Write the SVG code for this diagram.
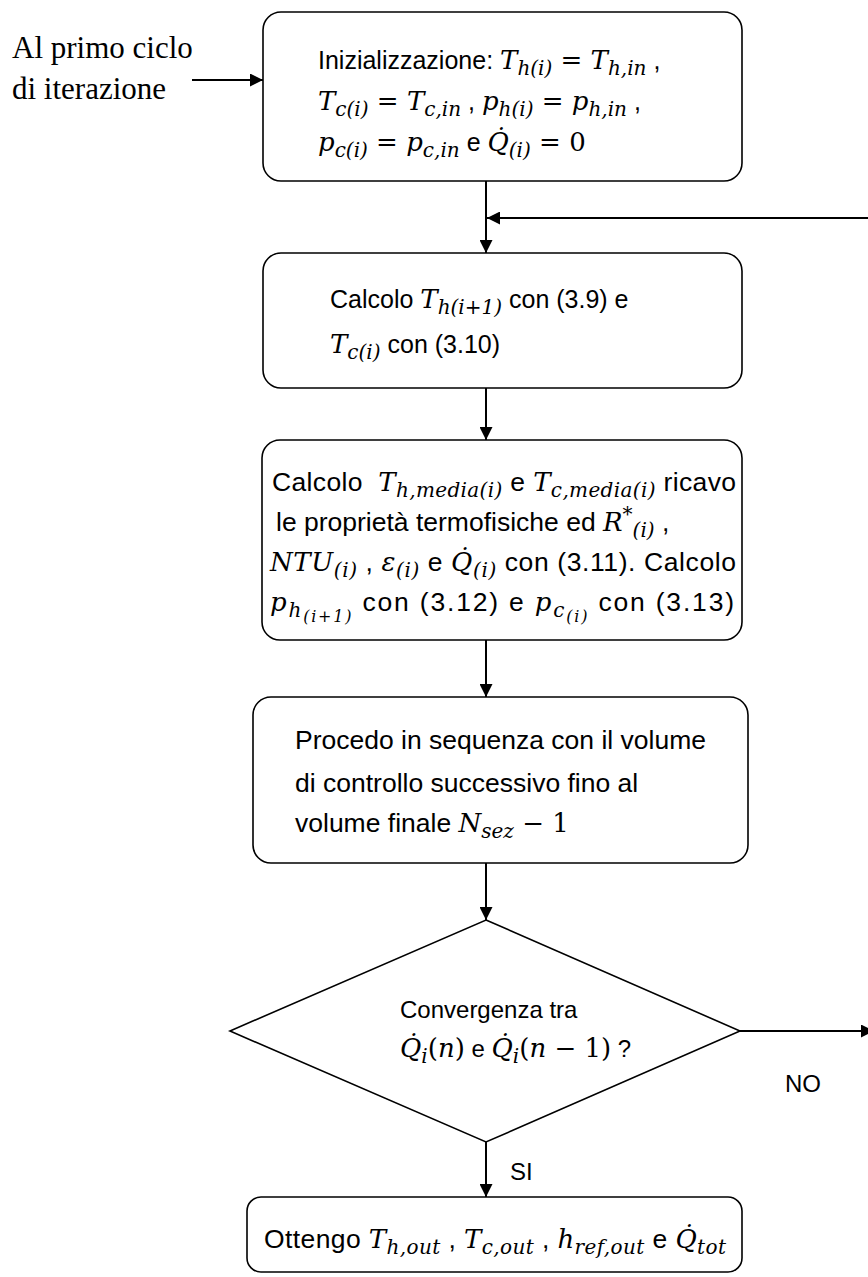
<svg xmlns="http://www.w3.org/2000/svg" width="868" height="1277" viewBox="0 0 868 1277">
<style>
.box{fill:#fff;stroke:#000;stroke-width:1.6}
.conn{fill:none;stroke:#000;stroke-width:2}
.t{font-family:"Liberation Sans",Arial,sans-serif;font-size:26.5px;fill:#000}
.t2{font-family:"Liberation Sans",Arial,sans-serif;font-size:25px;fill:#000}
.t3{font-family:"Liberation Sans",Arial,sans-serif;font-size:24px;fill:#000}
.r{font-family:"Liberation Serif","Times New Roman",serif;font-size:31px;fill:#000}
.m{font-family:"DejaVu Serif",serif;font-style:italic;font-size:26px}
.mu{font-family:"DejaVu Serif",serif;font-style:normal;font-size:26px}
.s{font-size:20px}
.ss{font-size:16px}
.lbl{font-family:"Liberation Sans",Arial,sans-serif;font-size:24px;fill:#000}
</style>
<defs>
<marker id="ah" viewBox="0 0 10 10" refX="10" refY="5" markerWidth="14" markerHeight="13" markerUnits="userSpaceOnUse" orient="auto"><path d="M0,0 L10,5 L0,10 z" fill="#000"/></marker>
</defs>
<g id="connectors">
<line class="conn" x1="192" y1="80" x2="263" y2="80" marker-end="url(#ah)"/>
<line class="conn" x1="486" y1="181" x2="486" y2="253" marker-end="url(#ah)"/>
<line class="conn" x1="870" y1="218" x2="487" y2="218" marker-end="url(#ah)"/>
<line class="conn" x1="486" y1="388" x2="486" y2="440" marker-end="url(#ah)"/>
<line class="conn" x1="486" y1="640" x2="486" y2="697" marker-end="url(#ah)"/>
<line class="conn" x1="486" y1="863" x2="486" y2="920" marker-end="url(#ah)"/>
<line class="conn" x1="486" y1="1142" x2="486" y2="1197" marker-end="url(#ah)"/>
<line class="conn" x1="740" y1="1031" x2="874" y2="1031" marker-end="url(#ah)"/>
<text class="lbl" x="785" y="1092">NO</text>
<text class="lbl" x="510" y="1180">SI</text>
</g>
<g id="start">
<text class="r" x="12" y="58">Al primo ciclo</text>
<text class="r" x="12" y="99">di iterazione</text>
</g>
<g id="init">
<rect class="box" x="263" y="12" width="479" height="169" rx="18"/>
<text class="t2" x="318" y="69">Inizializzazione: <tspan class="m">T</tspan><tspan class="m s" dy="6">h(i)</tspan><tspan class="mu" dy="-6"> = </tspan><tspan class="m">T</tspan><tspan class="m s" dy="6">h,in</tspan><tspan dy="-6"> ,</tspan></text>
<text class="t2" x="318" y="110"><tspan class="m">T</tspan><tspan class="m s" dy="6">c(i)</tspan><tspan class="mu" dy="-6"> = </tspan><tspan class="m">T</tspan><tspan class="m s" dy="6">c,in</tspan><tspan dy="-6"> , </tspan><tspan class="m">p</tspan><tspan class="m s" dy="6">h(i)</tspan><tspan class="mu" dy="-6"> = </tspan><tspan class="m">p</tspan><tspan class="m s" dy="6">h,in</tspan><tspan dy="-6"> ,</tspan></text>
<text class="t2" x="318" y="151"><tspan class="m">p</tspan><tspan class="m s" dy="6">c(i)</tspan><tspan class="mu" dy="-6"> = </tspan><tspan class="m">p</tspan><tspan class="m s" dy="6">c,in</tspan><tspan dy="-6"> e </tspan><tspan class="m">Q̇</tspan><tspan class="m s" dy="6">(i)</tspan><tspan class="mu" dy="-6"> = 0</tspan></text>
</g>
<g id="calc-temp">
<rect class="box" x="263" y="253" width="479" height="135" rx="18"/>
<text class="t2" x="330" y="308">Calcolo <tspan class="m">T</tspan><tspan class="m s" dy="6">h(i+1)</tspan><tspan dy="-6"> con (3.9) e</tspan></text>
<text class="t2" x="330" y="353"><tspan class="m">T</tspan><tspan class="m s" dy="6">c(i)</tspan><tspan dy="-6"> con (3.10)</tspan></text>
</g>
<g id="calc-props">
<rect class="box" x="262" y="440" width="480" height="200" rx="18"/>
<text class="t" x="272" y="491" textLength="464" lengthAdjust="spacing">Calcolo&#160; <tspan class="m">T</tspan><tspan class="m s" dy="6">h,media(i)</tspan><tspan dy="-6"> e </tspan><tspan class="m">T</tspan><tspan class="m s" dy="6">c,media(i)</tspan><tspan dy="-6"> ricavo</tspan></text>
<text class="t" x="276" y="531">le proprietà termofisiche ed <tspan class="m">R</tspan><tspan class="mu s" dy="-10">*</tspan><tspan class="m s" dy="16">(i)</tspan><tspan dy="-6"> ,</tspan></text>
<text class="t" x="270" y="571" textLength="466" lengthAdjust="spacing"><tspan class="m">NTU</tspan><tspan class="m s" dy="6">(i)</tspan><tspan dy="-6"> , </tspan><tspan class="m">ε</tspan><tspan class="m s" dy="6">(i)</tspan><tspan dy="-6"> e </tspan><tspan class="m">Q̇</tspan><tspan class="m s" dy="6">(i)</tspan><tspan dy="-6"> con (3.11). Calcolo</tspan></text>
<text class="t" x="270" y="611" textLength="464" lengthAdjust="spacing"><tspan class="m">p</tspan><tspan class="m s" dy="6">h</tspan><tspan class="m ss" dy="5">(i+1)</tspan><tspan dy="-11"> con (3.12) e </tspan><tspan class="m">p</tspan><tspan class="m s" dy="6">c</tspan><tspan class="m ss" dy="5">(i)</tspan><tspan dy="-11"> con (3.13)</tspan></text>
</g>
<g id="sequence">
<rect class="box" x="253" y="697" width="495" height="166" rx="18"/>
<text class="t" x="295" y="749">Procedo in sequenza con il volume</text>
<text class="t" x="295" y="792">di controllo successivo fino al</text>
<text class="t" x="295" y="832">volume finale <tspan class="m">N</tspan><tspan class="m s" dy="6">sez</tspan><tspan class="mu" dy="-6"> − 1</tspan></text>
</g>
<g id="convergence">
<polygon class="box" points="486,920 740,1031 486,1142 230,1031"/>
<text class="t3" x="400" y="1018">Convergenza tra</text>
<text class="t3" x="400" y="1057"><tspan class="m">Q̇</tspan><tspan class="m s" dy="6">i</tspan><tspan class="mu" dy="-6">(</tspan><tspan class="m">n</tspan><tspan class="mu">)</tspan> e <tspan class="m">Q̇</tspan><tspan class="m s" dy="6">i</tspan><tspan class="mu" dy="-6">(</tspan><tspan class="m">n</tspan><tspan class="mu"> − 1)</tspan> ?</text>
</g>
<g id="result">
<rect class="box" x="247" y="1197" width="495" height="75" rx="14"/>
<text class="t" x="264" y="1248" textLength="462" lengthAdjust="spacing">Ottengo <tspan class="m">T</tspan><tspan class="m s" dy="6">h,out</tspan><tspan dy="-6"> , </tspan><tspan class="m">T</tspan><tspan class="m s" dy="6">c,out</tspan><tspan dy="-6"> , </tspan><tspan class="m">h</tspan><tspan class="m s" dy="6">ref,out</tspan><tspan dy="-6"> e </tspan><tspan class="m">Q̇</tspan><tspan class="m s" dy="6">tot</tspan></text>
</g>
</svg>
